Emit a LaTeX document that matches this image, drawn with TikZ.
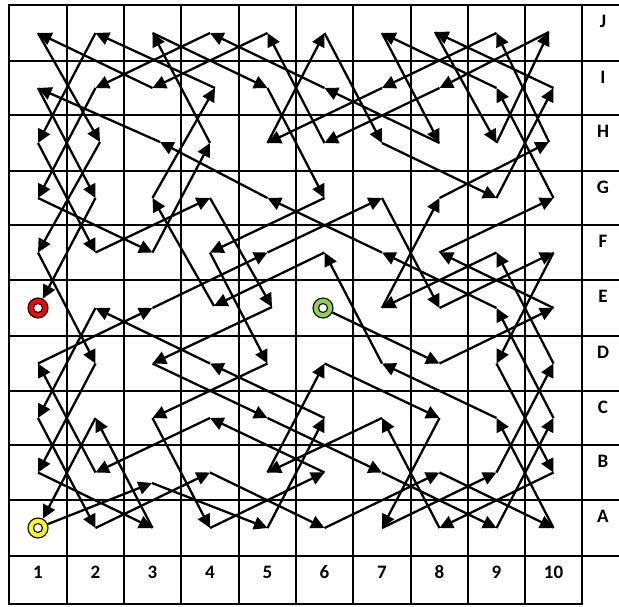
\documentclass[tikz,border=0pt]{standalone}
\usepackage{fontspec}
\setmainfont{Carlito}
\usetikzlibrary{arrows.meta}
\definecolor{ringRed}{RGB}{255,0,0}
\definecolor{ringGreen}{RGB}{146,208,80}
\definecolor{ringYellow}{RGB}{255,255,0}
\tikzset{
  gridline/.style = {line width=1.6pt, line cap=rect},
  move/.style     = {-{Triangle[length=13.5pt,width=13pt]}, line width=2.3pt},
  ring/.style     = {circle, draw, line width=1.1pt, fill=#1, minimum size=20pt,
                     inner sep=0pt,
                     path picture={\draw[fill=white, line width=1.1pt]
                       (path picture bounding box.center) circle (4.5pt);}},
  lbl/.style      = {font=\bfseries\fontsize{19}{22}\selectfont, anchor=base,
                     inner sep=0pt}
}
\begin{document}
\begin{tikzpicture}[x=1pt, y=-1pt]
  \useasboundingbox[fill=white] (0,0) rectangle (619,606);

  % -- board --
  \foreach \x in {9,67,124,181,239,296,353,411,468,525,582}
    \draw[gridline] (\x,5) -- (\x,604);
  \foreach \y in {5,61,115,171,225,280,336,391,445,500,556}
    \draw[gridline] (9,\y) -- (619,\y);
  \draw[gridline] (9,604) -- (582,604);

  % -- labels --
  \foreach \r/\y/\t in {j/27/J, i/83/I, h/137/H, g/193/G, f/247/F,
                        e/302/E, d/358/D, c/413/C, b/467/B, a/522/A}
    \node[lbl] (row-\r) at (603,\y) {\t};
  \foreach \c/\x in {1/38,2/95.5,3/152.5,4/210,5/267.5,6/324.5,7/382,
                     8/439.5,9/496.5,10/553.5}
    \node[lbl] (col-\c) at (\x,578.5) {\c};

  % -- squares --
  \foreach \c/\x in {1/38,2/95.5,3/152.5,4/210,5/267.5,6/324.5,7/382,
                     8/439.5,9/496.5,10/553.5}
    \foreach \r/\y in {a/528, b/472.5, c/418, d/363.5, e/308,
                       f/252.5, g/198, h/143, i/88, j/33}
      \coordinate (\r\c) at (\x,\y);
  % hand placed ones
  \coordinate (b3)  at (152,483);
  \coordinate (h3)  at (160,142);
  \coordinate (h2)  at (100,142);
  \coordinate (e5)  at (272,307);
  \coordinate (e4)  at (214,306);
  \coordinate (i4)  at (215,88);
  \coordinate (j8)  at (435,32);
  \coordinate (j10) at (549,32);
  \coordinate (h10) at (549,142);

  % -- marks --
  \node[ring=ringGreen]  (e6) at (323,308) {};
  \node[ring=ringYellow] (a1) at (38,528) {};
  \node[ring=ringRed]    (e1) at (38,308) {};

  % -- tour --
  \foreach \cur [remember=\cur as \prev (initially e6)] in
    {d8,e10,f8,g10,i9,j7,h8,i6,j4,i2,g1,f3,h4,j3,i5,g6,f4,d5,c3,a4,
     b6,c4,b2,d1,e3,f5,g7,e8,f10,d9,b10,a8,c7,b5,d6,c8,a7,b9,d10,f9,
     e7,g8,h10,j9,i7,h5,j6,h7,g9,i10,j8,h9,j10,i8,h6,j5,i3,j1,h2,f1,
     d2,b1,a3,c2,a1,b3,a5,c6,d4,e2,c1,a2,b4,a6,b8,a10,c9,d7,f6,e4,
     g3,i4,j2,h1,f2,g4,e5,d3,c5,b7,a9,c10,e9,f7,g5,h3,i1,g2,e1}
    \draw[move] (\prev) -- (\cur);
\end{tikzpicture}
\end{document}
